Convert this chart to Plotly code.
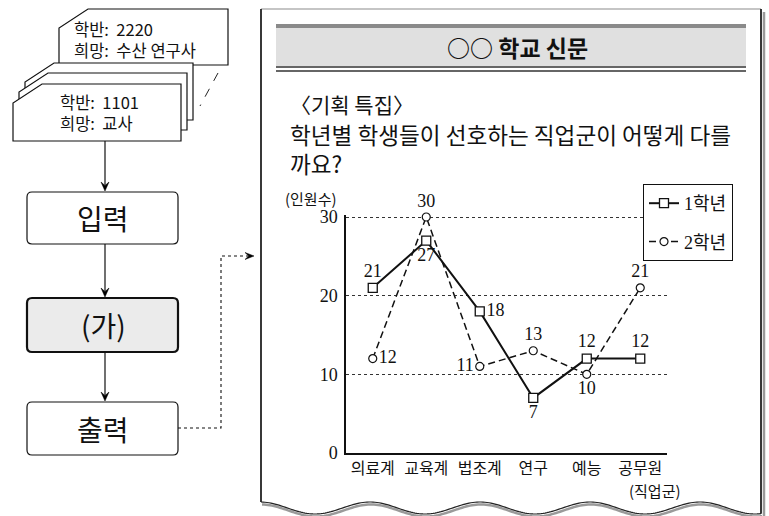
import math
import plotly.graph_objects as go

# ---------------- data ----------------
categories = ['의료계', '교육계', '법조계', '연구', '예능', '공무원']
grade1 = [21, 27, 18, 7, 12, 12]
grade2 = [12, 30, 11, 13, 10, 21]
series_names = ['1학년', '2학년']
y_ticks = [0, 10, 20, 30]

# label placement (style)
pos1 = ['top center', 'bottom center', 'middle right', 'bottom center', 'top center', 'top center']
pos2 = ['middle right', 'top center', 'middle left', 'top center', 'bottom center', 'top center']

W, H = 769, 516
KR = 'Noto Sans CJK KR'
SERIF = 'Liberation Serif, Noto Sans CJK KR'


def X(px):
    return px / W


def Y(py):
    return 1 - py / H


def path_of(points, close=False):
    s = 'M ' + ' L '.join(f'{X(x):.5f},{Y(y):.5f}' for x, y in points)
    return s + (' Z' if close else '')


def rounded_rect(x0, y0, x1, y1, r):
    p = [
        f'M {X(x0 + r):.5f},{Y(y0):.5f}',
        f'L {X(x1 - r):.5f},{Y(y0):.5f}',
        f'Q {X(x1):.5f},{Y(y0):.5f} {X(x1):.5f},{Y(y0 + r):.5f}',
        f'L {X(x1):.5f},{Y(y1 - r):.5f}',
        f'Q {X(x1):.5f},{Y(y1):.5f} {X(x1 - r):.5f},{Y(y1):.5f}',
        f'L {X(x0 + r):.5f},{Y(y1):.5f}',
        f'Q {X(x0):.5f},{Y(y1):.5f} {X(x0):.5f},{Y(y1 - r):.5f}',
        f'L {X(x0):.5f},{Y(y0 + r):.5f}',
        f'Q {X(x0):.5f},{Y(y0):.5f} {X(x0 + r):.5f},{Y(y0):.5f}',
        'Z',
    ]
    return ' '.join(p)


shapes = []
annotations = []


def add_path(pts, close=False, color='black', width=1, fill=None, dash=None):
    line = dict(color=color, width=width)
    if dash:
        line['dash'] = dash
    shapes.append(dict(type='path', xref='paper', yref='paper', path=path_of(pts, close),
                       line=line, fillcolor=fill if fill else 'rgba(0,0,0,0)', layer='above'))


def add_rect(x0, y0, x1, y1, fill, color='rgba(0,0,0,0)', width=0):
    shapes.append(dict(type='rect', xref='paper', yref='paper', x0=X(x0), x1=X(x1), y0=Y(y1), y1=Y(y0),
                       fillcolor=fill, line=dict(color=color, width=width), layer='above'))


def add_text(txt, x, y, size, anchor='center', bold=False, family=KR, color='#111'):
    if bold:
        txt = f'<b>{txt}</b>'
    annotations.append(dict(text=txt, x=X(x), y=Y(y), xref='paper', yref='paper', showarrow=False,
                            xanchor=anchor, yanchor='middle', align='left',
                            font=dict(family=family, size=size, color=color)))


def arrow_head(tx, ty, direction='down', size=9, half=4):
    if direction == 'down':
        pts = [(tx, ty), (tx - half, ty - size), (tx, ty - size * 0.6), (tx + half, ty - size)]
    else:  # right
        pts = [(tx, ty), (tx - size, ty - half), (tx - size * 0.6, ty), (tx - size, ty + half)]
    add_path(pts, close=True, color='black', width=0.5, fill='black')


# ---------------- left: stacked cards ----------------
CH_X, CH_Y = 29, 19


def card(l, t, r, b):
    add_path([(l + CH_X, t), (r, t), (r, b), (l, b), (l, t + CH_Y)], close=True,
             color='#111', width=1.2, fill='white')


card(59, 9, 228, 65)
card(25, 63, 193, 120)
card(19, 73, 187, 130)
card(13, 84, 181, 141)
add_path([(218, 73), (200, 106)], color='#222', width=1, dash='dash')

add_text('학반:  2220<br>희망:  수산 연구사', 72, 39, 16.5, anchor='left')
add_text('학반:  1101<br>희망:  교사', 58, 113, 16.5, anchor='left')

# flow boxes
boxes = [('입력', 192, 244, 'white', 1.2), ('(가)', 298, 352, '#ebebeb', 2.2), ('출력', 402, 455, 'white', 1.2)]
for label, t, b, fill, lw in boxes:
    shapes.append(dict(type='path', xref='paper', yref='paper', path=rounded_rect(27, t, 178, b, 5),
                       line=dict(color='#111', width=lw), fillcolor=fill, layer='above'))
    add_text(label, 103, (t + b) / 2, 28)

# flow arrows
for y0, y1 in [(141, 191), (244, 297), (352, 401)]:
    add_path([(105, y0), (105, y1 - 6)], color='#111', width=1.2)
    arrow_head(105, y1, 'down')

# dotted connector to the newspaper
add_path([(178, 428), (221, 428), (221, 256), (248, 256)], color='#111', width=1.1, dash='dot')
arrow_head(254, 256, 'right', size=9, half=3.5)

# ---------------- newspaper frame ----------------
def wave_y(x):
    return 508 - 6 * math.cos(2 * math.pi * (x - 260) / 110)


xs = [261 + i * 2 for i in range(251)]
wave = [(x, wave_y(x)) for x in xs]
# shadow
add_path([(764, 12)] + [(764, wave_y(761) + 2.5)], color='#9a9a9a', width=2.5)
add_path([(x + 1, y + 2.5) for x, y in wave], color='#9a9a9a', width=2.5)
# frame lines
add_path([(261, 9), (761, 9)], color='#8c8c8c', width=1.2)
add_path([(261, 9), (261, wave_y(261))], color='#222', width=1.8)
add_path([(761, 9), (761, wave_y(761))], color='#222', width=1.8)
add_path(wave, color='#222', width=1.2)

# header band
add_rect(276, 24, 746, 66, '#e0e0e0')
add_rect(276, 24, 746, 28, '#8a8a8a')
add_path([(276, 67), (746, 67)], color='#333', width=1.5)
add_path([(276, 71), (746, 71)], color='#333', width=1.5)
add_text('○○ 학교 신문', 517, 47, 23, bold=True)

add_text('〈기획 특집〉', 288, 104, 21, anchor='left')
add_text('학년별 학생들이 선호하는 직업군이 어떻게 다를<br>까요?', 288, 148.5, 22.6, anchor='left')

# axis titles
add_text('(인원수)', 311, 198, 15)
add_text('(직업군)', 655, 490, 15)

# ---------------- chart ----------------
Y0_PX, PX_PER_UNIT = 453, 236 / 30
Y_TOP = 30.3

fig = go.Figure()
fig.add_trace(go.Scatter(
    x=categories, y=grade1, name=series_names[0], mode='lines+markers+text',
    text=[str(v) for v in grade1], textposition=pos1, cliponaxis=False,
    textfont=dict(family=SERIF, size=18, color='#111'),
    line=dict(color='#111', width=2),
    marker=dict(symbol='square', size=9, color='white', line=dict(color='#111', width=1.3)),
    legendgroup='g1'))
fig.add_trace(go.Scatter(
    x=categories, y=grade2, name=series_names[1], mode='lines+markers+text',
    text=[str(v) for v in grade2], textposition=pos2, cliponaxis=False,
    textfont=dict(family=SERIF, size=18, color='#111'),
    line=dict(color='#111', width=1.5, dash='7px,4px'),
    marker=dict(symbol='circle', size=8, color='white', line=dict(color='#111', width=1.2)),
    legendgroup='g2'))

fig.update_layout(
    width=W, height=H, margin=dict(l=0, r=0, t=0, b=0, autoexpand=False),
    paper_bgcolor='white', plot_bgcolor='white',
    showlegend=True,
    legend=dict(x=X(643), y=Y(184), xanchor='left', yanchor='top',
                bordercolor='#111', borderwidth=1, bgcolor='white',
                font=dict(family=SERIF, size=18, color='#111'),
                tracegroupgap=12, traceorder='grouped'),
    xaxis=dict(domain=[X(346), X(667)], type='category', range=[-0.5, 5.5], automargin=False,
               showline=True, linecolor='#111', linewidth=1.5, showgrid=False, zeroline=False,
               ticks='', tickfont=dict(family=KR, size=16, color='#111'), fixedrange=True),
    yaxis=dict(domain=[Y(Y0_PX), Y(Y0_PX - Y_TOP * PX_PER_UNIT)], range=[0, Y_TOP], tickvals=y_ticks,
               automargin=False, ticklabelstandoff=3,
               showline=True, linecolor='#111', linewidth=1.5, zeroline=False,
               showgrid=True, gridcolor='#333', gridwidth=1, griddash='dot',
               ticks='', tickfont=dict(family=SERIF, size=18, color='#111'), fixedrange=True),
    shapes=shapes, annotations=annotations,
)

fig.write_html('out.html', config={'displayModeBar': False},
               post_script="document.body.style.margin='0';document.body.style.overflow='hidden';")
